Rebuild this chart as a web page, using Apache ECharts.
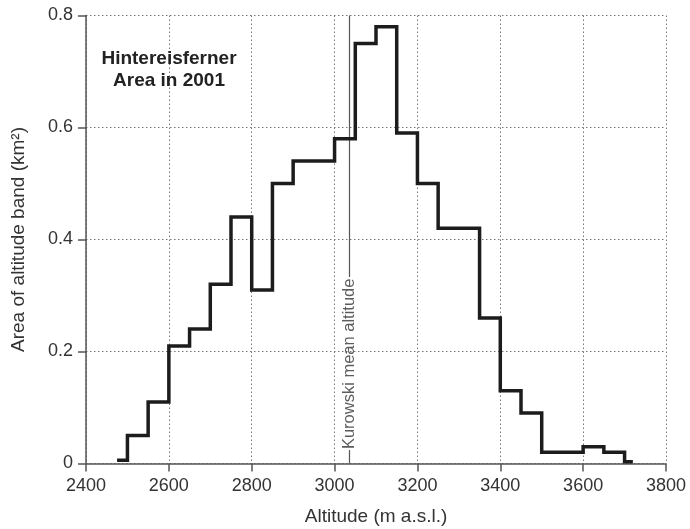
<!DOCTYPE html>
<html>
<head>
<meta charset="utf-8">
<script src="https://cdn.jsdelivr.net/npm/echarts@6/dist/echarts.min.js"></script>
<style>
html,body{margin:0;padding:0;background:#fff;}
#chart{width:690px;height:529px;}
</style>
</head>
<body>
<div id="chart"></div>
<script>
// Altitude band edges (m a.s.l.)
var bandEdges = [2475, 2500, 2550, 2600, 2650, 2700, 2750, 2800, 2850, 2900, 2950, 3000, 3050, 3100, 3150, 3200, 3250, 3300, 3350, 3400, 3450, 3500, 3550, 3600, 3650, 3700, 3720];
// Area of each altitude band (km²)
var bandAreas = [0.006, 0.05, 0.11, 0.21, 0.24, 0.32, 0.44, 0.31, 0.50, 0.54, 0.54, 0.58, 0.75, 0.78, 0.59, 0.50, 0.42, 0.42, 0.26, 0.13, 0.09, 0.02, 0.02, 0.03, 0.02, 0.003];
// Kurowski mean altitude
var kurowskiAltitude = 3035;
var kurowskiLabel = 'Kurowski mean altitude';
var kurowskiLabelY = 0.178;
var kurowskiGapTop = 0.333;
var kurowskiGapBottom = 0.024;
var xTicks = {min: 2400, max: 3800, interval: 200};
var yTicks = {min: 0, max: 0.8, interval: 0.2};
var heading = 'Hintereisferner\nArea in 2001';

var stepData = [];
for (var i = 0; i < bandAreas.length; i++) stepData.push([bandEdges[i], bandAreas[i]]);
stepData.push([bandEdges[bandEdges.length - 1], bandAreas[bandAreas.length - 1]]);

var FONT = '"Liberation Sans", Arial, Helvetica, sans-serif';
var chart = echarts.init(document.getElementById('chart'), null, {renderer: 'canvas'});
chart.setOption({
  animation: false,
  backgroundColor: '#fff',
  title: {
    text: heading,
    left: 169,
    top: 48,
    padding: 0,
    textAlign: 'center',
    textStyle: {fontFamily: FONT, fontSize: 19, fontWeight: 'bold', color: '#222', lineHeight: 22}
  },
  grid: {left: 86, right: 24, top: 15.5, bottom: 65.5, containLabel: false, outerBoundsMode: 'none'},
  xAxis: {
    type: 'value',
    min: xTicks.min, max: xTicks.max, interval: xTicks.interval,
    name: 'Altitude (m a.s.l.)',
    nameLocation: 'middle',
    nameGap: 44,
    nameTextStyle: {fontFamily: FONT, fontSize: 19, color: '#333', verticalAlign: 'top'},
    axisLine: {show: true, onZero: false, lineStyle: {color: '#555', width: 1.5}},
    axisTick: {show: true, length: 8, inside: false, lineStyle: {color: '#555', width: 1.5}},
    axisLabel: {fontFamily: FONT, fontSize: 18, color: '#333', margin: 14, formatter: function (v) { return String(v); }},
    splitLine: {show: true, lineStyle: {color: '#777', type: [1.5, 2.5], width: 1}}
  },
  yAxis: {
    type: 'value',
    min: yTicks.min, max: yTicks.max, interval: yTicks.interval,
    name: 'Area of altitude band (km²)',
    nameLocation: 'middle',
    nameGap: 58,
    nameTextStyle: {fontFamily: FONT, fontSize: 19, color: '#333'},
    axisLine: {show: true, lineStyle: {color: '#555', width: 1.5}},
    axisTick: {show: true, length: 8, inside: false, lineStyle: {color: '#555', width: 1.5}},
    axisLabel: {fontFamily: FONT, fontSize: 18, color: '#333', margin: 13, formatter: function (v) { return v === 0 ? '0' : (Math.round(v * 10) / 10).toString(); }},
    splitLine: {show: true, lineStyle: {color: '#777', type: [1.5, 2.5], width: 1}}
  },
  series: [
    {
      type: 'line',
      data: stepData,
      step: 'end',
      showSymbol: false,
      symbol: 'none',
      lineStyle: {color: '#1c1c1c', width: 3.5, join: 'miter', cap: 'butt'},
      z: 5,
      markLine: {
        silent: true,
        symbol: 'none',
        animation: false,
        label: {show: false},
        lineStyle: {color: '#555', width: 1.2, type: 'solid'},
        data: [
          [{coord: [kurowskiAltitude, yTicks.max]}, {coord: [kurowskiAltitude, kurowskiGapTop]}],
          [{coord: [kurowskiAltitude, yTicks.min]}, {coord: [kurowskiAltitude, kurowskiGapBottom]}]
        ]
      }
    },
    {
      type: 'scatter',
      data: [[kurowskiAltitude, kurowskiLabelY]],
      symbolSize: 0,
      silent: true,
      label: {
        show: true,
        position: 'inside',
        rotate: 90,
        formatter: kurowskiLabel,
        fontFamily: FONT,
        fontSize: 16.5,
        color: '#333'
      },
      z: 6
    }
  ]
});
</script>
</body>
</html>
